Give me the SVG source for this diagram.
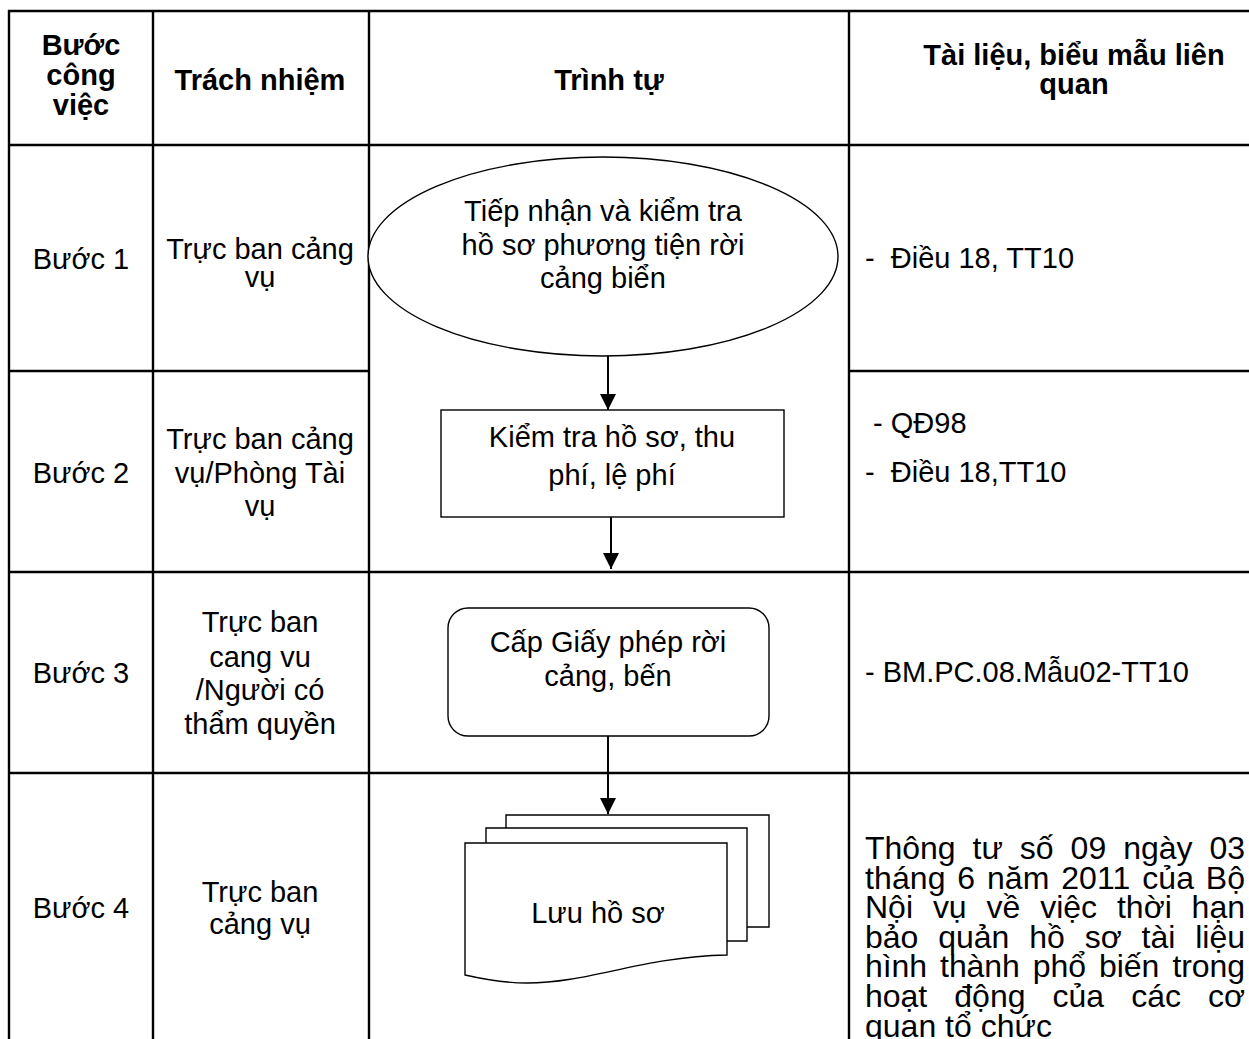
<svg xmlns="http://www.w3.org/2000/svg" width="1249" height="1039" viewBox="0 0 1249 1039">
<defs>
<style>
text{font-family:"Liberation Sans",Arial,sans-serif;font-size:29px;fill:#000}
.b{font-weight:bold}
.c{text-anchor:middle}
.p{font-size:32px}
.grid{stroke:#000;stroke-width:2.4;fill:none}
.shape{stroke:#000;stroke-width:1.4;fill:#fff}
.conn{stroke:#000;stroke-width:2;fill:none}
</style>
<marker id="ah" viewBox="0 0 16 16" refX="16" refY="8" markerWidth="16" markerHeight="16" markerUnits="userSpaceOnUse" orient="auto">
<path d="M0,0 L16,8 L0,16 Z" fill="#000"/>
</marker>
</defs>
<rect width="1249" height="1039" fill="#fff"/>
<g id="table" class="grid">
<line x1="8" y1="11" x2="1300" y2="11"/>
<line x1="8" y1="145" x2="1300" y2="145"/>
<line x1="8" y1="371" x2="369" y2="371"/>
<line x1="849" y1="371" x2="1300" y2="371"/>
<line x1="8" y1="572" x2="1300" y2="572"/>
<line x1="8" y1="773" x2="1300" y2="773"/>
<line x1="9" y1="10" x2="9" y2="1045"/>
<line x1="153" y1="10" x2="153" y2="1045"/>
<line x1="369" y1="10" x2="369" y2="1045"/>
<line x1="849" y1="10" x2="849" y2="1045"/>
</g>
<g id="header">
<text class="b c" x="81" y="55">Bước</text>
<text class="b c" x="81" y="85">công</text>
<text class="b c" x="81" y="115">việc</text>
<text class="b c" x="260" y="90">Trách nhiệm</text>
<text class="b c" x="609" y="90">Trình tự</text>
<text class="b c" x="1074" y="65">Tài liệu, biểu mẫu liên</text>
<text class="b c" x="1074" y="94">quan</text>
</g>
<g id="steps">
<text class="c" x="81" y="269">Bước 1</text>
<text class="c" x="81" y="483">Bước 2</text>
<text class="c" x="81" y="683">Bước 3</text>
<text class="c" x="81" y="918">Bước 4</text>
</g>
<g id="responsibility">
<text class="c" x="260" y="259">Trực ban cảng</text>
<text class="c" x="260" y="287">vụ</text>
<text class="c" x="260" y="449">Trực ban cảng</text>
<text class="c" x="260" y="483">vụ/Phòng Tài</text>
<text class="c" x="260" y="516">vụ</text>
<text class="c" x="260" y="632">Trực ban</text>
<text class="c" x="260" y="667">cang vu</text>
<text class="c" x="260" y="700">/Người có</text>
<text class="c" x="260" y="734">thẩm quyền</text>
<text class="c" x="260" y="902">Trực ban</text>
<text class="c" x="260" y="934">cảng vụ</text>
</g>
<g id="documents">
<text x="865" y="268" xml:space="preserve">-  Điều 18, TT10</text>
<text x="865" y="433" xml:space="preserve"> - QĐ98</text>
<text x="865" y="482" xml:space="preserve">-  Điều 18,TT10</text>
<text x="865" y="682">- BM.PC.08.Mẫu02-TT10</text>
</g>
<g id="paragraph" class="p">
<text class="p" x="865" y="859" word-spacing="8.1" textLength="380" lengthAdjust="spacing">Thông tư số 09 ngày 03</text>
<text class="p" x="865" y="888.6" word-spacing="2.7" textLength="380" lengthAdjust="spacing">tháng 6 năm 2011 của Bộ</text>
<text class="p" x="865" y="918.2" word-spacing="11" textLength="380" lengthAdjust="spacing">Nội vụ về việc thời hạn</text>
<text class="p" x="865" y="947.8" word-spacing="11" textLength="380" lengthAdjust="spacing">bảo quản hồ sơ tài liệu</text>
<text class="p" x="865" y="977.4" word-spacing="4.3" textLength="380" lengthAdjust="spacing">hình thành phổ biến trong</text>
<text class="p" x="865" y="1007" word-spacing="18.2" textLength="380" lengthAdjust="spacing">hoạt động của các cơ</text>
<text class="p" x="865" y="1036.6">quan tổ chức</text>
</g>
<g id="node-receive">
<ellipse class="shape" cx="603" cy="256.5" rx="235" ry="99.5"/>
<text class="c" x="603" y="221">Tiếp nhận và kiểm tra</text>
<text class="c" x="603" y="255">hồ sơ phương tiện rời</text>
<text class="c" x="603" y="288">cảng biển</text>
</g>
<g id="node-check">
<rect class="shape" x="441" y="410" width="343" height="107"/>
<text class="c" x="612" y="447">Kiểm tra hồ sơ, thu</text>
<text class="c" x="612" y="485">phí, lệ phí</text>
</g>
<g id="node-permit">
<rect class="shape" x="448" y="608" width="321" height="128" rx="20" ry="20"/>
<text class="c" x="608" y="652">Cấp Giấy phép rời</text>
<text class="c" x="608" y="686">cảng, bến</text>
</g>
<g id="node-archive">
<path class="shape" d="M506,829 V815 H769 V927 H747"/>
<path class="shape" d="M486,843 V828 H747 V941 H727"/>
<path class="shape" d="M465,843 H727 V955 C640,957 590,983 527,983 Q500,983 465,975 Z"/>
<text class="c" x="598" y="923">Lưu hồ sơ</text>
</g>
<g id="connectors" class="conn">
<line x1="608" y1="356" x2="608" y2="410" marker-end="url(#ah)"/>
<line x1="611" y1="517" x2="611" y2="569" marker-end="url(#ah)"/>
<line x1="608" y1="736" x2="608" y2="814" marker-end="url(#ah)"/>
</g>
</svg>
